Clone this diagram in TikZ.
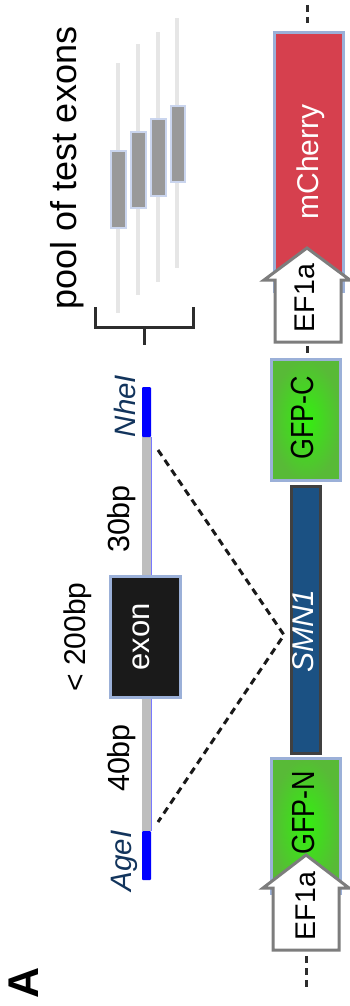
\documentclass[tikz,border=0pt]{standalone}
\usepackage{fontspec}
\setmainfont{Liberation Sans}
\usepackage{graphicx}
\usetikzlibrary{calc}

\definecolor{cherry}{RGB}{214,64,78}
\definecolor{boxline}{RGB}{155,176,216}
\definecolor{gfpin}{RGB}{51,240,15}
\definecolor{gfpout}{RGB}{88,186,55}
\definecolor{smnblue}{RGB}{27,81,131}
\definecolor{smnline}{RGB}{64,64,64}
\definecolor{exonfill}{RGB}{26,26,26}
\definecolor{intron}{RGB}{190,190,190}
\definecolor{intronedge}{RGB}{120,120,255}
\definecolor{siteblue}{RGB}{0,0,255}
\definecolor{sitetext}{RGB}{18,52,92}
\definecolor{promline}{RGB}{125,125,125}
\definecolor{poolline}{RGB}{230,230,230}
\definecolor{poolbox}{RGB}{153,153,153}
\definecolor{pooledge}{RGB}{202,213,238}
\definecolor{darkline}{RGB}{45,45,45}

\newcommand{\fs}[1]{\fontsize{#1pt}{#1pt}\selectfont}

\begin{document}
\begin{tikzpicture}[x=1pt,y=-1pt,
  part/.style={draw=boxline, line width=3pt, inner sep=0pt, outer sep=0pt},
  gfp/.style={part, inner color=gfpin, outer color=gfpout},
  bar/.style={inner sep=0pt, outer sep=0pt, minimum width=9pt},
  lbl/.style={rotate=90, inner sep=0pt},
  prom/.style={draw=promline, fill=white, line width=3pt, line join=miter},
  link/.style={draw=darkline, line width=3pt, dash pattern=on 7pt off 5pt},
  cut/.style={draw=black!90, line width=3pt, dash pattern=on 7pt off 5pt},
  poolbar/.style={draw=poolline, line width=4pt},
  poolexon/.style={draw=pooledge, fill=poolbox, line width=2pt},
  brace/.style={draw=darkline, line width=3pt}
]
\useasboundingbox (0,0) rectangle (350,1006);

% ---------- reporter construct ----------
\node[part, fill=cherry, minimum width=69pt, minimum height=258pt] (mcherry) at (309,162) {};
\node[lbl, text=white, font=\fs{30}] (mcherryText) at (311,162) {mCherry};

\node[gfp, minimum width=69pt, minimum height=121pt] (gfpC) at (306,420) {};
\node[lbl, font=\fs{32}] (gfpCText) at (302.5,418) {\scalebox{0.84}[1]{GFP-C}};

\node[draw=smnline, fill=smnblue, line width=3pt, inner sep=0pt,
      minimum width=29pt, minimum height=267pt] (smn) at (306,620) {};
\node[lbl, text=white, font=\fs{30}\itshape] (smnText) at (303,631) {SMN1};

\node[gfp, minimum width=69pt, minimum height=135pt] (gfpN) at (306,826) {};
\node[lbl, font=\fs{32}] (gfpNText) at (303.5,813) {\scalebox{0.84}[1]{GFP-N}};

% promoter arrows
\draw[prom] (275,342) -- (275,280) -- (264,280) -- (307,248) -- (350,280)
  -- (341,280) -- (341,342) -- cycle;
\node[lbl, font=\fs{28.5}] (ef1aTop) at (305,298) {EF1a};
\draw[prom] (273,950) -- (273,888) -- (263,888) -- (306,855) -- (349,888)
  -- (339,888) -- (339,950) -- cycle;
\node[lbl, font=\fs{28.5}] (ef1aBottom) at (306,906) {EF1a};

% backbone continuing beyond the construct
\coordinate (backboneTop) at (307,5);
\coordinate (promTopBase) at (307,342);
\coordinate (promBotBase) at (306,950);
\coordinate (backboneBottom) at (306,988);
\draw[link, shorten >=9.5pt] (backboneTop) -- (backboneTop |- mcherry.north);
\draw[link, shorten <=4pt, shorten >=6.5pt] (promTopBase) -- (promTopBase |- gfpC.north);
\draw[link, shorten <=6pt] (promBotBase) -- (backboneBottom);

% ---------- test exon cassette ----------
\node[bar, fill=intron, minimum height=138pt] (intronR) at (146.5,506) {};
\node[bar, fill=intron, minimum height=132pt] (intronL) at (146.5,765) {};
\draw[intronedge, line width=1pt] (intronR.north east) -- (intronR.south east);
\draw[intronedge, line width=1pt] (intronL.north east) -- (intronL.south east);
\node[bar, fill=siteblue, minimum height=50pt, rounded corners=1pt] (nhe) at (146.5,412) {};
\node[bar, fill=siteblue, minimum height=49pt, rounded corners=1pt] (age) at (146.5,855.5) {};
\node[part, fill=exonfill, minimum width=70pt, minimum height=121pt] (exon) at (145.5,637) {};

\node[lbl, text=white, font=\fs{31}] (exonText) at (141,637) {exon};
\node[lbl, font=\fs{30}] (sizeText) at (78,637) {< 200bp};
\node[lbl, font=\fs{30.5}] (rightLen) at (122,519) {30bp};
\node[lbl, font=\fs{30.5}] (leftLen) at (122,758) {40bp};
\node[lbl, text=sitetext, font=\fs{29.5}\itshape] (nheText) at (125,406) {NheI};
\node[lbl, text=sitetext, font=\fs{29.5}\itshape] (ageText) at (124,861) {AgeI};

% insertion into SMN1
\coordinate (nheCut) at (158,450);
\coordinate (ageCut) at (158,822);
\coordinate (smnInsert) at ($(smn.west)+(-6,15)$);
\draw[cut] (nheCut) -- (smnInsert) -- (ageCut);

% ---------- pool of test exons ----------
\draw[poolbar] (118,63) -- (118,313);
\draw[poolbar] (138,44) -- (138,295);
\draw[poolbar] (158,32) -- (158,282);
\draw[poolbar] (177,18) -- (177,268);
\draw[poolexon] (111,151) rectangle (126,228);
\draw[poolexon] (131,132) rectangle (146,208);
\draw[poolexon] (151,119) rectangle (166,196);
\draw[poolexon] (171,106) rectangle (185,182);

\draw[brace] (95,307) -- (95,327) -- (193,327) -- (193,307);
\coordinate (braceMid) at (144,327);
\coordinate (braceStem) at (144,345);
\draw[brace] (braceMid) -- (braceStem);

\node[lbl, font=\fs{36}] (poolText) at (67,168) {pool of test exons};

\node[lbl, font=\fs{43}\bfseries] (panel) at (24,983) {A};
\end{tikzpicture}
\end{document}
